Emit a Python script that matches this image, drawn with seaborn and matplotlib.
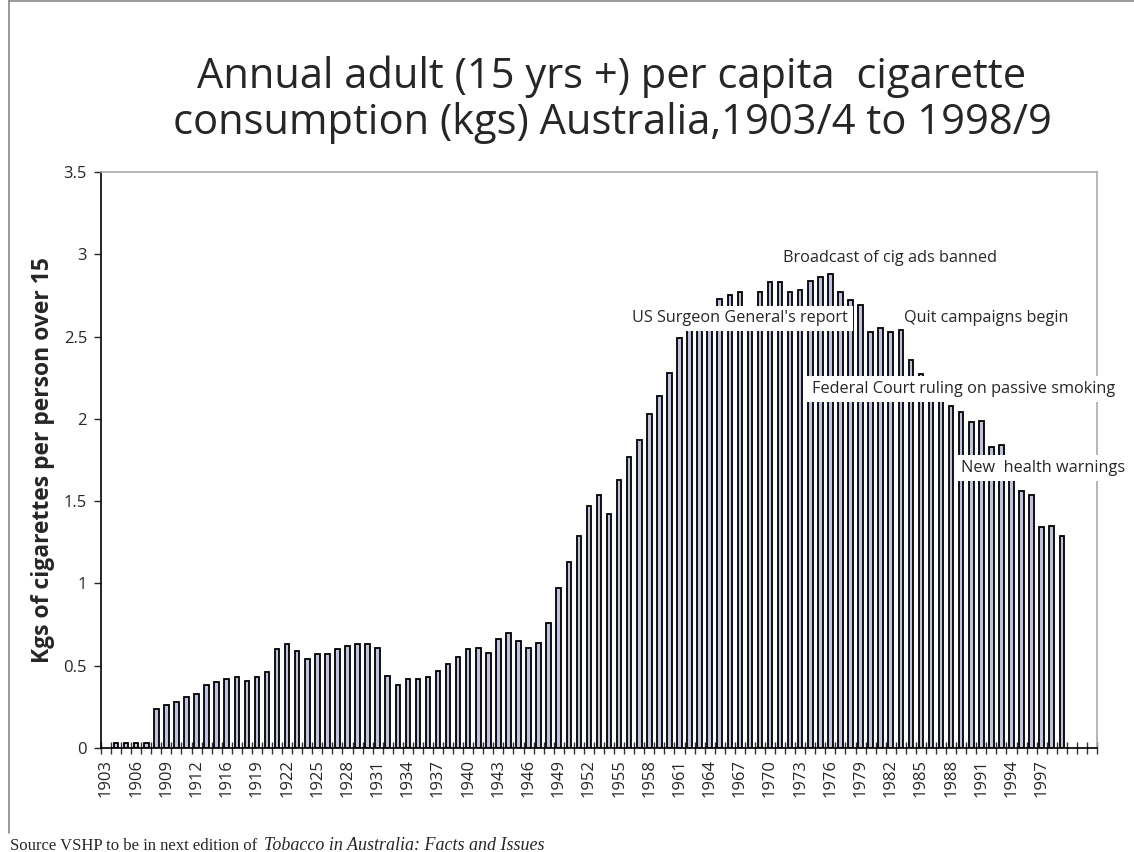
import numpy as np
import pandas as pd
import seaborn as sns
import matplotlib.pyplot as plt
from matplotlib.lines import Line2D

# category labels (the original sheet skips 1915, so 1912 -> 1916 is 3 slots)
years = [str(y) for y in range(1903, 1915)] + [str(y) for y in range(1916, 2003)]

# kgs per adult, one value per year from 1904 to 1999 (1903 slot is empty)
values = [0.03, 0.03, 0.03, 0.03, 0.24, 0.26, 0.28, 0.31, 0.33, 0.38,
          0.40, 0.42, 0.43, 0.41, 0.43, 0.46, 0.60, 0.63, 0.59, 0.54,
          0.57, 0.57, 0.60, 0.62, 0.63, 0.63, 0.61, 0.44, 0.38, 0.42,
          0.42, 0.43, 0.47, 0.51, 0.55, 0.60, 0.61, 0.58, 0.66, 0.70,
          0.65, 0.61, 0.64, 0.76, 0.97, 1.13, 1.29, 1.47, 1.54, 1.42,
          1.63, 1.77, 1.87, 2.03, 2.14, 2.28, 2.49, 2.59, 2.62, 2.66,
          2.73, 2.75, 2.77, 2.65, 2.77, 2.83, 2.83, 2.77, 2.78, 2.84,
          2.86, 2.88, 2.77, 2.72, 2.69, 2.53, 2.55, 2.53, 2.54, 2.36,
          2.27, 2.22, 2.17, 2.08, 2.04, 1.98, 1.99, 1.83, 1.84, 1.63,
          1.56, 1.54, 1.34, 1.35, 1.29]

notes = ["Broadcast of cig ads banned", "US Surgeon General's report",
         "Quit campaigns begin", "Federal Court ruling on passive smoking",
         "New  health warnings"]

df = pd.DataFrame({"year": years[1:1 + len(values)], "kgs": values})

sns.set_style("white")
plt.rcParams["font.family"] = ["Open Sans", "DejaVu Sans"]

fig = plt.figure(figsize=(11.34, 8.52), dpi=100)
ax = fig.add_axes([101 / 1134, 1 - 748 / 852, 996 / 1134, 576 / 852])

sns.barplot(data=df, x="year", y="kgs", order=years, color="#bfc3e0",
            saturation=1, width=0.45, edgecolor="black", linewidth=1.3, ax=ax)

ax.set_xlim(-0.5, len(years) - 0.5)
ax.set_ylim(0, 3.5)
ax.set_yticks(np.arange(0, 3.51, 0.5))
ax.set_yticklabels(["0", "0.5", "1", "1.5", "2", "2.5", "3", "3.5"], fontsize=12)
ax.set_xticks(range(0, 94, 3))
ax.set_xticklabels(years[0:94:3], rotation=90, fontsize=12)
ax.tick_params(axis="x", length=0, pad=8)
ax.tick_params(axis="y", length=5, width=1, direction="out", left=True, pad=5)
ax.set_xticks(np.arange(-0.5, len(years), 1), minor=True)
ax.tick_params(axis="x", which="minor", length=8, width=1, direction="inout",
               bottom=True, color="#333333")
ax.set_xlabel("")
ax.set_ylabel("Kgs of cigarettes per person over 15", fontsize=16.5,
              fontweight="bold", labelpad=6)

for side in ["left", "bottom"]:
    ax.spines[side].set_color("black")
    ax.spines[side].set_linewidth(1.2)
for side in ["top", "right"]:
    ax.spines[side].set_color("#aaaaaa")
    ax.spines[side].set_linewidth(1.2)

box = dict(facecolor="white", edgecolor="none", pad=3.5)
fs = 11.7
ax.text(67.3, 2.98, notes[0], fontsize=fs, va="center", zorder=5)
ax.text(52.3, 2.61, notes[1], fontsize=fs, va="center", bbox=box, zorder=5)
ax.text(79.3, 2.61, notes[2], fontsize=fs, va="center", zorder=5)
ax.text(70.2, 2.18, notes[3], fontsize=fs, va="center", bbox=box, zorder=5)
ax.text(85.0, 1.70, notes[4], fontsize=fs, va="center", bbox=box, zorder=5)

fig.text(612 / 1134, 1 - 56 / 852,
         "Annual adult (15 yrs +) per capita  cigarette\n"
         "consumption (kgs) Australia,1903/4 to 1998/9",
         ha="center", va="top", fontsize=30, linespacing=1.12)

fig.add_artist(Line2D([9 / 1134, 9 / 1134], [1 - 833 / 852, 1], color="#888888", lw=1.2))
fig.add_artist(Line2D([9 / 1134, 1], [1 - 1 / 852, 1 - 1 / 852], color="#888888", lw=1.2))

src = fig.text(10 / 1134, 1 - 850 / 852, "Source VSHP to be in next edition of ",
               family="Liberation Serif", fontsize=12, va="baseline")
fig.canvas.draw()
x_end = src.get_window_extent().x1 / fig.bbox.width
fig.text(x_end + 3 / 1134, 1 - 850 / 852, "Tobacco in Australia: Facts and Issues",
         family="Liberation Serif", style="italic", fontsize=13, va="baseline")

fig.savefig("out.png", dpi=100)
